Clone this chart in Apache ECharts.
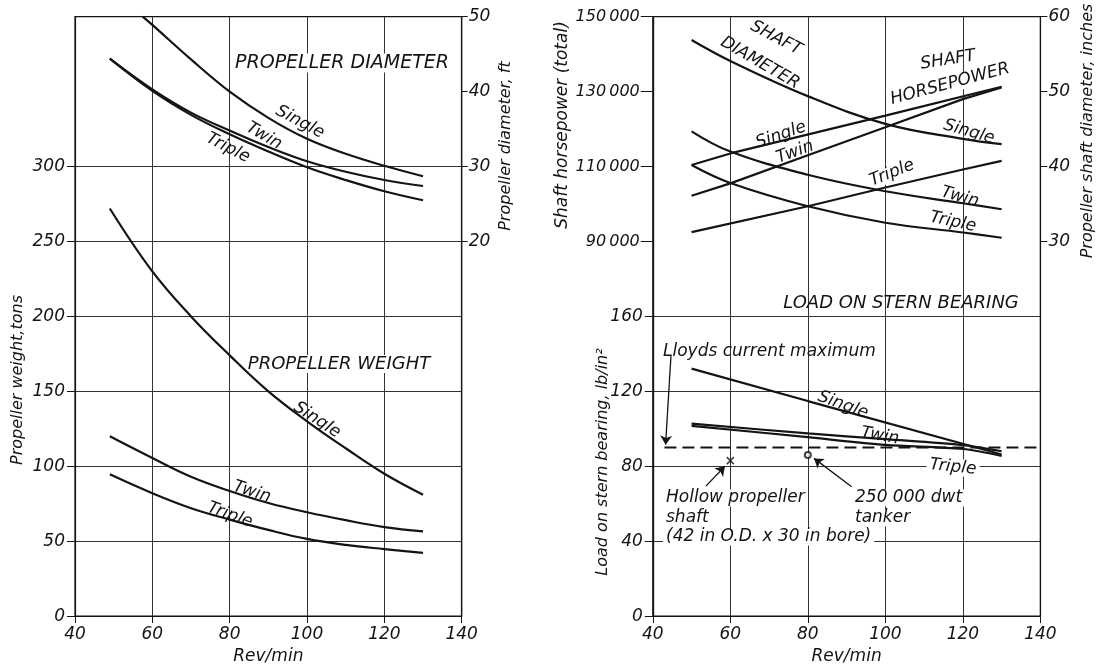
<!DOCTYPE html>
<html>
<head>
<meta charset="utf-8">
<script src="https://cdn.jsdelivr.net/npm/echarts@6/dist/echarts.min.js"></script>
<style>
html,body{margin:0;padding:0;background:#fff;}
#chart{width:1100px;height:670px;}
</style>
</head>
<body>
<div id="chart"></div>
<script>
// ---------- DATA ----------
// Left chart: propeller weight (tons) vs rev/min
const weightRev    = [49, 60, 70, 80, 90, 100, 110, 120, 130];
const weightSingle = [272, 230, 200, 174, 150, 130, 112, 95, 81];
const weightTwin   = [120, 105.5, 93, 83.5, 75.5, 69.3, 64, 59.4, 56.5];
const weightTriple = [94.6, 82, 72, 64.4, 57.5, 51.5, 47.5, 44.7, 42.2];

// Left chart: propeller diameter (ft)
const diaSingleRev = [57.5, 60, 70, 80, 90, 100, 110, 120, 130];
const diaSingle    = [50, 48.9, 44.3, 40, 36.5, 33.7, 31.7, 30.1, 28.7];
const diaRev       = [49, 60, 70, 80, 90, 100, 110, 120, 130];
const diaTwin      = [44.4, 40.3, 37.2, 34.8, 32.6, 30.7, 29.3, 28.2, 27.4];
const diaTriple    = [44.4, 40.1, 36.9, 34.3, 32.0, 29.9, 28.2, 26.7, 25.5];

// Right chart: shaft horsepower (total)
const shpSingleRev = [50, 60, 100, 130];
const shpSingle    = [110400, 113500, 123600, 131300];
const shpTwinRev   = [50, 60, 80, 100, 120, 130];
const shpTwin      = [102200, 105500, 113000, 120500, 128000, 131100];
const shpTripleRev = [50, 80, 100, 120, 130];
const shpTriple    = [92500, 99400, 104400, 109200, 111500];

// Right chart: propeller shaft diameter (inches)
const shaftRev     = [50, 60, 80, 100, 120, 130];
const shaftSingle  = [56.9, 54.1, 49.4, 45.7, 43.7, 43.0];
const shaftTwin    = [44.7, 42.0, 38.9, 36.7, 35.1, 34.3];
const shaftTriple  = [40.2, 37.8, 34.7, 32.5, 31.2, 30.5];

// Right chart: load on stern bearing (lb/in^2)
const loadSingleRev = [50, 80, 130];
const loadSingle    = [132.1, 114.8, 86.3];
const loadRev       = [50, 80, 100, 120, 130];
const loadTwin      = [102.8, 97.5, 94.5, 91.3, 88.0];
const loadTriple    = [101.6, 95.5, 91.4, 89.2, 85.5];

const lloydsRev  = [43, 140];
const lloydsLoad = [90, 90];

const hollowShaftPoint = [60, 83];   // x marker
const tankerPoint      = [80, 86];   // circle marker

// annotation arrows [fromRev, fromLoad, toRev, toLoad]
const arrowLloyds = [44.7, 139.5, 43.3, 91.5];
const arrowHollow = [53.7, 69.4, 58.6, 80.0];
const arrowTanker = [91.3, 69.0, 81.6, 84.2];

// tick labels
const xTicks        = [40, 60, 80, 100, 120, 140];
const weightTicks   = [0, 50, 100, 150, 200, 250, 300];
const propDiaTicks  = [20, 30, 40, 50];
const shpTicks      = [90000, 110000, 130000, 150000];
const shaftDiaTicks = [30, 40, 50, 60];
const loadTicks     = [0, 40, 80, 120, 160];

// ---------- CHART ----------
const pair = (xs, ys) => xs.map((x, i) => [x, ys[i]]);
const INK = '#141414';
const FONT = 'DejaVu Sans';
const lab = (size) => ({ color: INK, fontFamily: FONT, fontStyle: 'italic', fontSize: size });

function curve(name, xs, ys, xi, yi, smooth) {
  return {
    name, type: 'line', xAxisIndex: xi, yAxisIndex: yi,
    data: pair(xs, ys), showSymbol: false, symbol: 'none',
    smooth: smooth,
    lineStyle: { color: INK, width: 2.2 }, silent: true, z: 5
  };
}

function xAxis(gi) {
  return {
    type: 'value', gridIndex: gi, min: 40, max: 140, interval: 20,
    name: 'Rev/min', nameLocation: 'middle', nameGap: 30,
    nameTextStyle: lab(17),
    axisLine: { lineStyle: { color: INK, width: 1.2 } },
    axisTick: { show: true, length: 7, lineStyle: { color: INK } },
    axisLabel: Object.assign(lab(17), { margin: 10, customValues: xTicks }),
    splitLine: { show: true, lineStyle: { color: '#333', width: 1 } }
  };
}

function yAxis(opt) {
  return Object.assign({
    type: 'value',
    axisLine: { show: true, lineStyle: { color: INK, width: 1.2 } },
    splitLine: { show: false }
  }, opt);
}

const option = {
  backgroundColor: '#ffffff',
  animation: false,
  grid: [
    { left: 75, top: 16.7, width: 386.7, height: 605.3, show: true, borderColor: INK, borderWidth: 1.2 },
    { left: 652.8, top: 16.7, width: 387.6, height: 605.3, show: true, borderColor: INK, borderWidth: 1.2 }
  ],
  xAxis: [xAxis(0), xAxis(1)],
  yAxis: [
    yAxis({ gridIndex: 0, position: 'left', min: 0, max: 400, interval: 50,
      axisTick: { show: true, length: 8, customValues: weightTicks, lineStyle: { color: INK } },
      axisLabel: Object.assign(lab(17), { margin: 10, customValues: weightTicks }),
      splitLine: { show: true, lineStyle: { color: '#333', width: 1 } } }),
    yAxis({ gridIndex: 0, position: 'right', min: -30, max: 50, interval: 10,
      axisTick: { show: true, length: 6, customValues: propDiaTicks, lineStyle: { color: INK } },
      axisLabel: Object.assign(lab(17), { margin: 7, customValues: propDiaTicks }) }),
    yAxis({ gridIndex: 1, position: 'left', min: 0, max: 320, interval: 40,
      axisTick: { show: true, length: 8, customValues: loadTicks, lineStyle: { color: INK } },
      axisLabel: Object.assign(lab(17), { margin: 10, customValues: loadTicks }),
      splitLine: { show: true, lineStyle: { color: '#333', width: 1 } } }),
    yAxis({ gridIndex: 1, position: 'left', min: -10000, max: 150000, interval: 10000,
      axisTick: { show: true, length: 12, customValues: shpTicks, lineStyle: { color: INK } },
      axisLabel: Object.assign(lab(16), { margin: 13, customValues: shpTicks,
        formatter: v => String(v).replace(/(\d+)(\d{3})$/, '$1\u2009$2') }) }),
    yAxis({ gridIndex: 1, position: 'right', min: -20, max: 60, interval: 10,
      axisTick: { show: true, length: 7, customValues: shaftDiaTicks, lineStyle: { color: INK } },
      axisLabel: Object.assign(lab(17), { margin: 8, customValues: shaftDiaTicks }) })
  ],
  series: [
    curve('Weight single', weightRev, weightSingle, 0, 0, 0.4),
    curve('Weight twin', weightRev, weightTwin, 0, 0, 0.4),
    curve('Weight triple', weightRev, weightTriple, 0, 0, 0.4),
    curve('Diameter single', diaSingleRev, diaSingle, 0, 1, 0.4),
    curve('Diameter twin', diaRev, diaTwin, 0, 1, 0.4),
    curve('Diameter triple', diaRev, diaTriple, 0, 1, 0.4),
    curve('SHP single', shpSingleRev, shpSingle, 1, 3, false),
    curve('SHP twin', shpTwinRev, shpTwin, 1, 3, false),
    curve('SHP triple', shpTripleRev, shpTriple, 1, 3, false),
    curve('Shaft dia single', shaftRev, shaftSingle, 1, 4, 0.4),
    curve('Shaft dia twin', shaftRev, shaftTwin, 1, 4, 0.4),
    curve('Shaft dia triple', shaftRev, shaftTriple, 1, 4, 0.4),
    curve('Load single', loadSingleRev, loadSingle, 1, 2, false),
    curve('Load twin', loadRev, loadTwin, 1, 2, 0.3),
    curve('Load triple', loadRev, loadTriple, 1, 2, 0.3),
    {
      name: 'Lloyds current maximum', type: 'line', xAxisIndex: 1, yAxisIndex: 2,
      data: pair(lloydsRev, lloydsLoad), showSymbol: false, symbol: 'none', silent: true,
      lineStyle: { color: INK, width: 2, type: [12, 6] }, z: 4,
      markLine: {
        silent: true, symbol: ['none', 'arrow'], symbolSize: 9, animation: false,
        label: { show: false },
        lineStyle: { color: INK, width: 1.3, type: 'solid' },
        data: [arrowLloyds, arrowHollow, arrowTanker].map(a => [
          { coord: [a[0], a[1]] }, { coord: [a[2], a[3]] }
        ])
      }
    },
    {
      name: 'Hollow propeller shaft', type: 'scatter', xAxisIndex: 1, yAxisIndex: 2,
      data: [hollowShaftPoint], symbol: 'path://M0,0L10,10M10,0L0,10', symbolSize: 7,
      itemStyle: { color: 'none', borderColor: INK, borderWidth: 1.6 }, silent: true, z: 6
    },
    {
      name: '250 000 dwt tanker', type: 'scatter', xAxisIndex: 1, yAxisIndex: 2,
      data: [tankerPoint], symbol: 'emptyCircle', symbolSize: 6,
      itemStyle: { color: INK, borderColor: INK, borderWidth: 1.4 }, silent: true, z: 6
    }
  ]
};

// ---------- TEXT ANNOTATIONS (layout) ----------
const notes = [
  ['PROPELLER DIAMETER', 342, 63, 0, 19, 'center', true],
  ['Single', 300, 122, -28, 17, 'center', false],
  ['Twin', 264, 136, -30, 17, 'center', false],
  ['Triple', 228, 148, -27, 17, 'center', false],
  ['PROPELLER WEIGHT', 339, 364, 0, 18, 'center', true],
  ['Single', 317, 420, -33, 17, 'center', false],
  ['Twin', 252, 492, -18, 17, 'center', false],
  ['Triple', 230, 515, -20, 17, 'center', false],
  ['SHAFT', 776, 38, -28, 17, 'center', false],
  ['DIAMETER', 760, 63, -30, 17, 'center', false],
  ['SHAFT', 948, 60, 9, 17, 'center', false],
  ['HORSEPOWER', 950, 84, 15, 17, 'center', true],
  ['Single', 781, 135, 19, 17, 'center', false],
  ['Twin', 795, 152, 20, 17, 'center', false],
  ['Single', 969, 132, -16, 17, 'center', false],
  ['Triple', 892, 173, 22, 17, 'center', true],
  ['Twin', 960, 197, -16, 17, 'center', false],
  ['Triple', 953, 222, -12, 17, 'center', false],
  ['LOAD ON STERN BEARING', 901, 303, 0, 18, 'center', false],
  ['Lloyds current maximum', 663, 352, 0, 17, 'left', false],
  ['Single', 843, 405, -20, 17, 'center', false],
  ['Twin', 880, 436, -10, 17, 'center', false],
  ['Triple', 953, 467, -6, 17, 'center', true],
  ['Hollow propeller', 663, 498, 0, 17, 'left', true],
  ['shaft', 663, 518, 0, 17, 'left', true],
  ['(42 in O.D. x 30 in bore)', 663, 537, 0, 17, 'left', true],
  ['250 000 dwt', 852, 498, 0, 17, 'left', true],
  ['tanker', 852, 518, 0, 17, 'left', true]
];
const axisNames = [
  ['Propeller weight,tons', 18, 380, 16],
  ['Propeller diameter, ft', 506, 146, 16],
  ['Shaft horsepower (total)', 563, 125, 17],
  ['Load on stern bearing, lb/in²', 603, 462, 16],
  ['Propeller shaft diameter, inches', 1088, 131, 16]
];

const graphics = [];
notes.forEach(n => {
  graphics.push({
    type: 'text', x: n[1], y: n[2], rotation: n[3] * Math.PI / 180, z: 3, silent: true,
    style: Object.assign({
      text: n[0], fill: INK, font: 'italic ' + n[4] + 'px "' + FONT + '"',
      align: n[5], verticalAlign: 'middle'
    }, n[6] ? { backgroundColor: '#fff', padding: [0, 3] } : {})
  });
});
axisNames.forEach(a => {
  graphics.push({
    type: 'text', x: a[1], y: a[2], rotation: Math.PI / 2, z: 3, silent: true,
    style: { text: a[0], fill: INK, font: 'italic ' + a[3] + 'px "' + FONT + '"',
      align: 'center', verticalAlign: 'middle' }
  });
});
option.graphic = graphics;

const chart = echarts.init(document.getElementById('chart'), null, { renderer: 'canvas' });
chart.setOption(option);
</script>
</body>
</html>
